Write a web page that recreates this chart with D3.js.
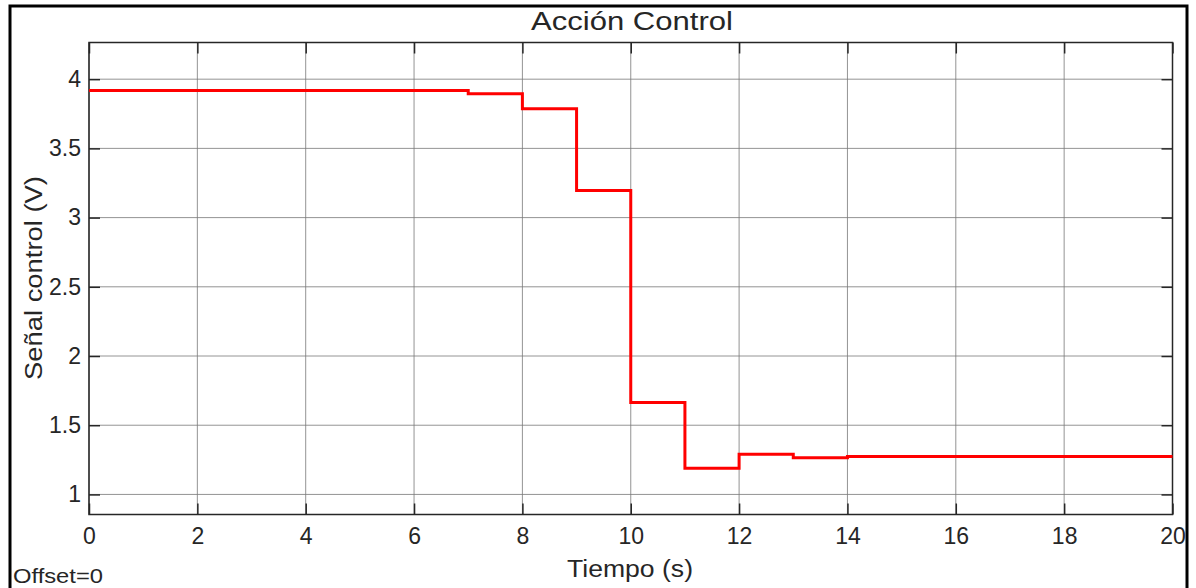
<!DOCTYPE html>
<html lang="es">
<head>
<meta charset="utf-8">
<script src="https://d3js.org/d3.v7.min.js"></script>
<style>
  body { margin: 0; background: #fff; }
  svg text { font-family: "Liberation Sans", Arial, sans-serif; fill: #262626; }
</style>
</head>
<body>
<svg id="chart"></svg>
<script>
var width = 1196, height = 588;

// step times (s) and control values (V), held until next step
var stepTimes  = [0, 7, 8, 9, 10, 11, 12, 13, 14, 20];
var stepValues = [3.918, 3.895, 3.787, 3.195, 1.665, 1.19, 1.29, 1.265, 1.274, 1.274];
var xTicks = [0, 2, 4, 6, 8, 10, 12, 14, 16, 18, 20];
var yTicks = [1, 1.5, 2, 2.5, 3, 3.5, 4];
var yTickLabels = ["1", "1.5", "2", "2.5", "3", "3.5", "4"];

var margin = {left: 89, top: 42.5, right: 1172.5, bottom: 514.5};

var svg = d3.select("#chart").attr("width", width).attr("height", height);

var x = d3.scaleLinear().domain([0, 20]).range([margin.left, margin.right]);
var y = d3.scaleLinear().domain([0.855, 4.265]).range([margin.bottom, margin.top]);

// outer frame
svg.append("rect")
    .attr("x", 10).attr("y", 6)
    .attr("width", 1177).attr("height", 620)
    .attr("fill", "none").attr("stroke", "#000").attr("stroke-width", 3);

// grid
svg.append("g").selectAll("line").data(xTicks).enter().append("line")
    .attr("x1", d => x(d)).attr("x2", d => x(d))
    .attr("y1", margin.top).attr("y2", margin.bottom)
    .attr("stroke", "#7a7a7a").attr("stroke-width", 1).attr("opacity", 0.8);
svg.append("g").selectAll("line").data(yTicks).enter().append("line")
    .attr("y1", d => y(d)).attr("y2", d => y(d))
    .attr("x1", margin.left).attr("x2", margin.right)
    .attr("stroke", "#7a7a7a").attr("stroke-width", 1).attr("opacity", 0.8);

// axes (ticks pointing inward, on all four sides)
var tl = -11;
svg.append("g").attr("class", "axis")
    .attr("transform", "translate(0," + margin.bottom + ")")
    .call(d3.axisBottom(x).tickValues(xTicks).tickSize(tl).tickPadding(13).tickFormat(d3.format("d")));
svg.append("g").attr("class", "axis")
    .attr("transform", "translate(0," + margin.top + ")")
    .call(d3.axisTop(x).tickValues(xTicks).tickSize(tl).tickFormat(""));
svg.append("g").attr("class", "axis")
    .attr("transform", "translate(" + margin.left + ",0)")
    .call(d3.axisLeft(y).tickValues(yTicks).tickSize(tl).tickPadding(8)
      .tickFormat((d, i) => yTickLabels[i]));
svg.append("g").attr("class", "axis")
    .attr("transform", "translate(" + margin.right + ",0)")
    .call(d3.axisRight(y).tickValues(yTicks).tickSize(tl).tickFormat(""));

svg.selectAll(".axis .domain").remove();
svg.selectAll(".axis line").attr("stroke", "#262626").attr("stroke-width", 1.5);
svg.selectAll(".axis text").attr("font-size", 23).attr("fill", "#262626")
    .attr("font-family", "Liberation Sans, Arial, sans-serif");

// plot box
svg.append("rect")
    .attr("x", margin.left).attr("y", margin.top)
    .attr("width", margin.right - margin.left).attr("height", margin.bottom - margin.top)
    .attr("fill", "none").attr("stroke", "#262626").attr("stroke-width", 1.5);

// signal
var pts = stepTimes.map((t, i) => ({t: t, v: stepValues[i]}));
var line = d3.line().x(d => x(d.t)).y(d => y(d.v)).curve(d3.curveStepAfter);
svg.append("path").datum(pts)
    .attr("d", line)
    .attr("fill", "none").attr("stroke", "#ff0000").attr("stroke-width", 3);

// titles
svg.append("text").attr("x", 632).attr("y", 30)
    .attr("text-anchor", "middle").attr("font-size", 26).attr("fill", "#000")
    .attr("textLength", 202).attr("lengthAdjust", "spacingAndGlyphs")
    .text("Acción Control");
svg.append("text").attr("x", 630).attr("y", 577)
    .attr("text-anchor", "middle").attr("font-size", 23)
    .attr("textLength", 126).attr("lengthAdjust", "spacingAndGlyphs")
    .text("Tiempo (s)");
svg.append("text")
    .attr("transform", "translate(42,278) rotate(-90)")
    .attr("text-anchor", "middle").attr("font-size", 23)
    .attr("textLength", 204).attr("lengthAdjust", "spacingAndGlyphs")
    .text("Señal control (V)");
svg.append("text").attr("x", 13).attr("y", 583)
    .attr("font-size", 21).attr("fill", "#000")
    .attr("textLength", 90).attr("lengthAdjust", "spacingAndGlyphs")
    .text("Offset=0");
</script>
</body>
</html>
